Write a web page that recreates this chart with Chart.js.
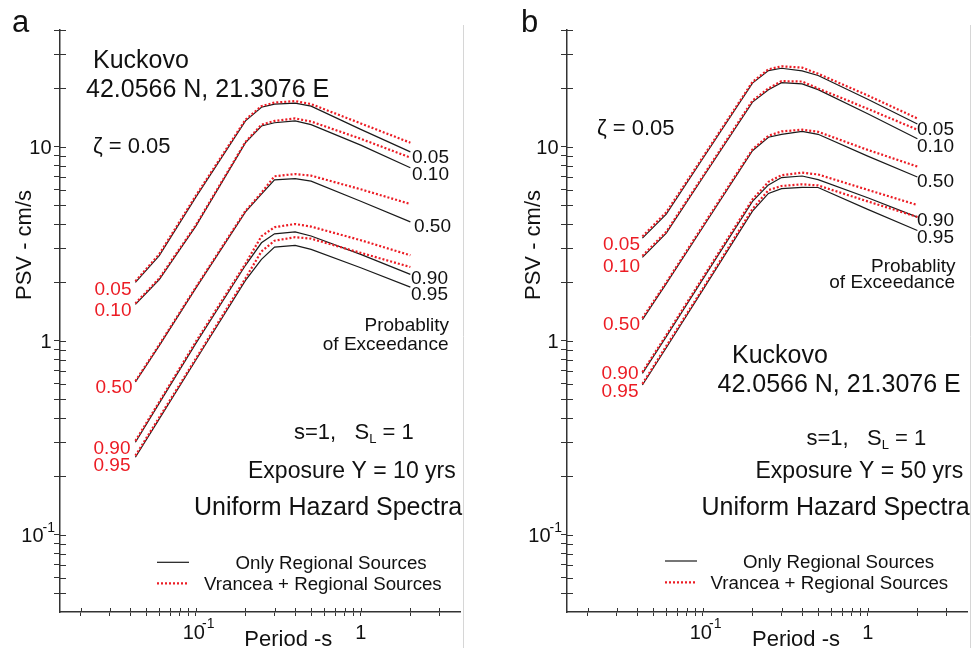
<!DOCTYPE html>
<html><head><meta charset="utf-8">
<script src="https://cdn.jsdelivr.net/npm/chart.js@4.4.1/dist/chart.umd.min.js"></script>
<style>
html,body{margin:0;padding:0;background:#fff;width:973px;height:648px;overflow:hidden}
#wa{position:absolute;left:0;top:0;width:486px;height:648px}
#wb{position:absolute;left:486px;top:0;width:487px;height:648px}
canvas{display:block}
</style></head><body>
<div id="wa"><canvas id="ca" width="486" height="648"></canvas></div>
<div id="wb"><canvas id="cb" width="487" height="648"></canvas></div>
<script>
// ---------- data ----------
const periods = [0.043, 0.06, 0.1, 0.2, 0.25, 0.3, 0.4, 0.5, 1, 2];
const probLevels = ['0.05', '0.10', '0.50', '0.90', '0.95'];

// Panel a : exposure 10 yrs
const a_reg_005 = [2.0, 2.75, 5.5, 13.6, 16.0, 16.6, 16.8, 16.2, 12.3, 9.42];
const a_reg_010 = [1.54, 2.07, 3.9, 10.5, 12.8, 13.3, 13.6, 13.0, 10.2, 7.8];
const a_reg_050 = [0.613, 0.945, 1.87, 4.62, 5.7, 6.75, 6.85, 6.65, 5.24, 4.10];
const a_reg_090 = [0.30, 0.477, 0.97, 2.45, 3.2, 3.56, 3.64, 3.47, 2.79, 2.20];
const a_reg_095 = [0.251, 0.396, 0.796, 2.05, 2.63, 3.04, 3.1, 2.96, 2.38, 1.89];
const a_vr_005 = [2.03, 2.8, 5.6, 13.8, 16.2, 16.9, 17.2, 16.6, 13.2, 10.5];
const a_vr_010 = [1.56, 2.1, 3.95, 10.6, 13.0, 13.6, 14.0, 13.5, 11.0, 8.8];
const a_vr_050 = [0.62, 0.955, 1.89, 4.68, 5.8, 7.05, 7.24, 7.1, 6.04, 5.07];
const a_vr_090 = [0.305, 0.485, 0.99, 2.5, 3.46, 3.85, 4.0, 3.88, 3.30, 2.76];
const a_vr_095 = [0.256, 0.403, 0.81, 2.1, 2.89, 3.28, 3.42, 3.36, 2.84, 2.40];

// Panel b : exposure 50 yrs
const b_reg_005 = [3.38, 4.50, 8.70, 21.3, 24.7, 25.4, 24.6, 23.3, 17.6, 13.1];
const b_reg_010 = [2.69, 3.59, 6.95, 17.0, 19.7, 21.4, 21.1, 19.7, 14.8, 11.0];
const b_reg_050 = [1.285, 1.97, 3.85, 9.55, 11.2, 11.6, 12.0, 11.6, 8.95, 6.99];
const b_reg_090 = [0.679, 1.05, 2.08, 5.23, 6.36, 6.94, 7.07, 6.77, 5.46, 4.34];
const b_reg_095 = [0.592, 0.921, 1.83, 4.66, 5.75, 6.09, 6.18, 6.17, 4.76, 3.70];
const b_vr_005 = [3.45, 4.6, 8.85, 21.6, 25.1, 26.0, 25.6, 23.8, 18.4, 14.0];
const b_vr_010 = [2.74, 3.65, 7.05, 17.3, 20.0, 21.8, 21.7, 20.0, 15.7, 12.25];
const b_vr_050 = [1.31, 2.0, 3.92, 9.7, 11.4, 12.0, 12.25, 11.95, 9.64, 7.91];
const b_vr_090 = [0.69, 1.07, 2.12, 5.35, 6.6, 7.14, 7.36, 7.2, 6.0, 5.01];
const b_vr_095 = [0.60, 0.94, 1.86, 4.78, 5.98, 6.28, 6.41, 6.32, 5.23, 4.35];

// axes
const xRange = [0.015, 4];
const yRange = [0.04, 40];
const xTickValues = [0.02,0.03,0.04,0.05,0.06,0.07,0.08,0.09,0.1,0.2,0.3,0.4,0.5,0.6,0.7,0.8,0.9,1,2,3];
const yTickValues = [0.05,0.06,0.07,0.08,0.09,0.1,0.2,0.3,0.4,0.5,0.6,0.7,0.8,0.9,1,2,3,4,5,6,7,8,9,10,20,30,40];
const xTickLabels = [['10','-1',0.1],['1','',1]];
const yTickLabels = [['10','',10],['1','',1],['10','-1',0.1]];

// ---------- styles ----------
const RED = 'rgb(236,28,36)';
const BLACK = '#1a1a1a';
const AXIS = '#333';
const FONT = '"Liberation Sans", Arial, Helvetica, sans-serif';

function buildDatasets(regional, vrancea) {
  const ds = [];
  vrancea.forEach((vals, i) => ds.push({
    label: 'Vrancea + Regional Sources ' + probLevels[i],
    data: periods.map((t, j) => ({x: t, y: vals[j]})),
    borderColor: RED, borderWidth: 2.2, borderDash: [2, 2],
    pointRadius: 0, fill: false, tension: 0, order: 0
  }));
  regional.forEach((vals, i) => ds.push({
    label: 'Only Regional Sources ' + probLevels[i],
    data: periods.map((t, j) => ({x: t, y: vals[j]})),
    borderColor: BLACK, borderWidth: 1.2,
    pointRadius: 0, fill: false, tension: 0, order: 1
  }));
  return ds;
}

function txt(ctx, s, x, y, size, color, align, rot) {
  ctx.save();
  ctx.font = size + 'px ' + FONT;
  ctx.fillStyle = color || '#111';
  ctx.textAlign = align || 'left';
  ctx.textBaseline = 'alphabetic';
  ctx.translate(x, y);
  if (rot) ctx.rotate(rot);
  ctx.fillText(s, 0, 0);
  ctx.restore();
}
function measure(ctx, s, size) {
  ctx.save(); ctx.font = size + 'px ' + FONT;
  const w = ctx.measureText(s).width; ctx.restore(); return w;
}

function decorPlugin(cfg) {
  return {
    id: 'decor',
    beforeDraw(chart) {
      const c = chart.ctx;
      c.save(); c.fillStyle = '#fff'; c.fillRect(0, 0, chart.width, chart.height); c.restore();
    },
    afterDraw(chart) {
      const c = chart.ctx, ox = cfg.offX;
      const xs = chart.scales.x, ys = chart.scales.y, ca = chart.chartArea;
      // inner halves of crossing ticks
      c.save();
      c.strokeStyle = AXIS; c.lineWidth = 1;
      c.beginPath();
      yTickValues.forEach(v => {
        const py = Math.round(ys.getPixelForValue(v)) + 0.5;
        c.moveTo(ca.left, py); c.lineTo(ca.left + 6, py);
      });
      xTickValues.forEach(v => {
        const px = Math.round(xs.getPixelForValue(v)) + 0.5;
        c.moveTo(px, ca.bottom); c.lineTo(px, ca.bottom - 4);
      });
      c.stroke();
      // light frame line on the right
      c.strokeStyle = '#d6d6d6'; c.lineWidth = 1;
      c.beginPath(); c.moveTo(cfg.frameX - ox, 25); c.lineTo(cfg.frameX - ox, 648); c.stroke();
      c.restore();

      // tick labels
      yTickLabels.forEach(([b, sup, v]) => {
        const py = ys.getPixelForValue(v);
        if (sup) {
          const sw = measure(c, sup, 14);
          txt(c, sup, ca.left - 5, py - 3, 14, '#111', 'right');
          txt(c, b, ca.left - 5 - sw + 1, py + 7.5, 20, '#111', 'right');
        } else {
          txt(c, b, ca.left - 8.5, py + 7, 20, '#111', 'right');
        }
      });
      xTickLabels.forEach(([b, sup, v]) => {
        const px = xs.getPixelForValue(v);
        if (sup) {
          const bw = measure(c, b, 20);
          txt(c, b, px - 2, ca.bottom + 27, 20, '#111', 'center');
          txt(c, sup, px - 2 + bw / 2 - 3, ca.bottom + 16, 14, '#111', 'left');
        } else {
          txt(c, b, px, ca.bottom + 27, 20, '#111', 'center');
        }
      });

      // texts
      cfg.texts.forEach(t => {
        if (t.parts) {
          let x = t.x - ox;
          t.parts.forEach(p => {
            txt(c, p.t, x, t.y + (p.dy || 0), p.s, '#111', 'left');
            x += measure(c, p.t, p.s);
          });
        } else {
          txt(c, t.t, t.x - ox, t.y, t.s, t.c, t.a, t.r);
        }
      });

      // legend samples
      const L = cfg.legend;
      c.save();
      c.lineWidth = 1.2; c.strokeStyle = BLACK;
      c.beginPath(); c.moveTo(L.x0 - ox, L.y1); c.lineTo(L.x1 - ox, L.y1); c.stroke();
      c.lineWidth = 2.2; c.strokeStyle = RED; c.setLineDash([2, 2]);
      c.beginPath(); c.moveTo(L.x0 - ox, L.y2); c.lineTo(L.x1 - ox, L.y2); c.stroke();
      c.restore();
    }
  };
}

function makeChart(id, regional, vrancea, padding, cfg) {
  const ctx = document.getElementById(id);
  return new Chart(ctx, {
    type: 'line',
    data: {datasets: buildDatasets(regional, vrancea)},
    options: {
      responsive: false, animation: false, devicePixelRatio: 1,
      layout: {padding: padding},
      plugins: {legend: {display: false}, tooltip: {enabled: false}},
      scales: {
        x: {
          type: 'logarithmic', min: xRange[0], max: xRange[1], position: 'bottom',
          afterBuildTicks: s => { s.ticks = xTickValues.map(v => ({value: v})); },
          afterFit: s => { s.height = 0; },
          ticks: {display: false, autoSkip: false},
          grid: {drawOnChartArea: false, drawTicks: true, tickLength: 4, color: AXIS, lineWidth: 1},
          border: {display: true, color: AXIS, width: 1.5}
        },
        y: {
          type: 'logarithmic', min: yRange[0], max: yRange[1], position: 'left',
          afterBuildTicks: s => { s.ticks = yTickValues.map(v => ({value: v})); },
          afterFit: s => { s.width = 0; },
          ticks: {display: false, autoSkip: false},
          grid: {drawOnChartArea: false, drawTicks: true, tickLength: 6, color: AXIS, lineWidth: 1},
          border: {display: true, color: AXIS, width: 1.5}
        }
      }
    },
    plugins: [decorPlugin(cfg)]
  });
}

function sl(x, y) {
  return {x: x, y: y, parts: [{t: 's=1,   S', s: 22}, {t: 'L', s: 13, dy: 4}, {t: ' = 1', s: 22}]};
}

const textsA = [
  {t: 'a', x: 12, y: 32, s: 31},
  {t: 'Kuckovo', x: 93, y: 68, s: 25},
  {t: '42.0566 N, 21.3076 E', x: 86, y: 96.5, s: 25},
  {t: '\u03B6 = 0.05', x: 93, y: 153, s: 22},
  {t: '0.05', x: 131.5, y: 295, s: 19, c: RED, a: 'right'},
  {t: '0.10', x: 131.5, y: 316, s: 19, c: RED, a: 'right'},
  {t: '0.50', x: 132.5, y: 393, s: 19, c: RED, a: 'right'},
  {t: '0.90', x: 130.5, y: 454, s: 19, c: RED, a: 'right'},
  {t: '0.95', x: 130.5, y: 471, s: 19, c: RED, a: 'right'},
  {t: '0.05', x: 412, y: 163, s: 19},
  {t: '0.10', x: 412, y: 179.5, s: 19},
  {t: '0.50', x: 414, y: 231.5, s: 19},
  {t: '0.90', x: 411, y: 283.5, s: 19},
  {t: '0.95', x: 411, y: 300, s: 19},
  {t: 'Probablity', x: 449, y: 331, s: 19, a: 'right'},
  {t: 'of Exceedance', x: 448.5, y: 350, s: 19, a: 'right'},
  sl(294, 439),
  {t: 'Exposure Y = 10 yrs', x: 248, y: 478, s: 23},
  {t: 'Uniform Hazard Spectra', x: 194, y: 515, s: 25},
  {t: 'Only Regional Sources', x: 235.5, y: 569, s: 18.7},
  {t: 'Vrancea + Regional Sources', x: 204, y: 589.5, s: 18.7},
  {t: 'PSV - cm/s', x: 31, y: 245, s: 22, a: 'center', r: -Math.PI / 2},
  {t: 'Period -s', x: 288.3, y: 646, s: 22, a: 'center'}
];
const textsB = [
  {t: 'b', x: 521, y: 31.7, s: 31},
  {t: '\u03B6 = 0.05', x: 597, y: 135, s: 22},
  {t: '0.05', x: 640, y: 250, s: 19, c: RED, a: 'right'},
  {t: '0.10', x: 640, y: 271.7, s: 19, c: RED, a: 'right'},
  {t: '0.50', x: 640, y: 330, s: 19, c: RED, a: 'right'},
  {t: '0.90', x: 638.5, y: 379.3, s: 19, c: RED, a: 'right'},
  {t: '0.95', x: 638.5, y: 396.7, s: 19, c: RED, a: 'right'},
  {t: '0.05', x: 917, y: 135, s: 19},
  {t: '0.10', x: 917, y: 151.7, s: 19},
  {t: '0.50', x: 917, y: 186.7, s: 19},
  {t: '0.90', x: 917, y: 225.7, s: 19},
  {t: '0.95', x: 917, y: 242.7, s: 19},
  {t: 'Probablity', x: 955.5, y: 271.5, s: 19, a: 'right'},
  {t: 'of Exceedance', x: 955, y: 288.3, s: 19, a: 'right'},
  {t: 'Kuckovo', x: 732, y: 363.3, s: 25},
  {t: '42.0566 N, 21.3076 E', x: 717.5, y: 391.7, s: 25},
  sl(806.5, 445),
  {t: 'Exposure Y = 50 yrs', x: 755.5, y: 478, s: 23},
  {t: 'Uniform Hazard Spectra', x: 701.5, y: 514.5, s: 25},
  {t: 'Only Regional Sources', x: 743, y: 568, s: 18.7},
  {t: 'Vrancea + Regional Sources', x: 710.5, y: 589, s: 18.7},
  {t: 'PSV - cm/s', x: 539.5, y: 245, s: 22, a: 'center', r: -Math.PI / 2},
  {t: 'Period -s', x: 796, y: 646, s: 22, a: 'center'}
];

makeChart('ca',
  [a_reg_005, a_reg_010, a_reg_050, a_reg_090, a_reg_095],
  [a_vr_005, a_vr_010, a_vr_050, a_vr_090, a_vr_095],
  {left: 60, top: 30, right: 26, bottom: 36},
  {offX: 0, frameX: 463.5, texts: textsA, legend: {x0: 157, x1: 189, y1: 562.3, y2: 583.3}});

makeChart('cb',
  [b_reg_005, b_reg_010, b_reg_050, b_reg_090, b_reg_095],
  [b_vr_005, b_vr_010, b_vr_050, b_vr_090, b_vr_095],
  {left: 81, top: 30, right: 6, bottom: 36},
  {offX: 486, frameX: 970.5, texts: textsB, legend: {x0: 665, x1: 697, y1: 561, y2: 582.3}});
</script>
</body></html>
